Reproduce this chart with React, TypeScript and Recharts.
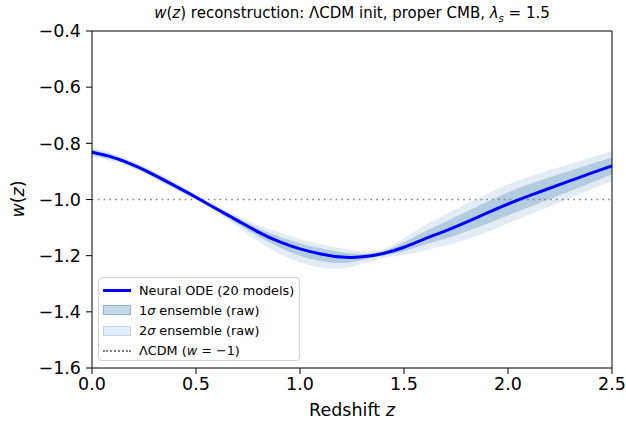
import React from "react";
import {
  ComposedChart,
  Area,
  Line,
  XAxis,
  YAxis,
  ReferenceLine,
} from "recharts";

// redshift grid
const Z = [
  0.0, 0.1, 0.2, 0.3, 0.4, 0.5, 0.6, 0.7, 0.8, 0.9, 1.0, 1.1, 1.2, 1.3, 1.4,
  1.5, 1.6, 1.7, 1.8, 1.9, 2.0, 2.1, 2.2, 2.3, 2.4, 2.5,
];

// ensemble mean w(z)
const MEAN = [
  -0.832, -0.85, -0.878, -0.913, -0.952, -0.992, -1.034, -1.075, -1.116,
  -1.15, -1.176, -1.194, -1.205, -1.204, -1.192, -1.17, -1.14, -1.112,
  -1.081, -1.048, -1.016, -0.987, -0.96, -0.933, -0.906, -0.88,
];

// 1 sigma band
const S1_HI = [
  -0.823, -0.842, -0.871, -0.905, -0.944, -0.986, -1.028, -1.066, -1.103,
  -1.132, -1.156, -1.174, -1.188, -1.194, -1.184, -1.152, -1.114, -1.079,
  -1.043, -1.008, -0.974, -0.946, -0.921, -0.898, -0.873, -0.85,
];
const S1_LO = [
  -0.842, -0.858, -0.885, -0.921, -0.96, -0.998, -1.041, -1.086, -1.131,
  -1.17, -1.201, -1.219, -1.226, -1.215, -1.2, -1.184, -1.16, -1.14, -1.114,
  -1.086, -1.057, -1.028, -0.999, -0.97, -0.94, -0.91,
];

// 2 sigma band
const S2_HI = [
  -0.816, -0.836, -0.866, -0.9, -0.939, -0.982, -1.023, -1.058, -1.092,
  -1.117, -1.141, -1.159, -1.174, -1.184, -1.176, -1.138, -1.093, -1.054,
  -1.016, -0.98, -0.947, -0.919, -0.896, -0.873, -0.85, -0.826,
];
const S2_LO = [
  -0.849, -0.864, -0.89, -0.926, -0.965, -1.002, -1.046, -1.097, -1.149,
  -1.193, -1.224, -1.242, -1.246, -1.229, -1.208, -1.198, -1.182, -1.164,
  -1.142, -1.116, -1.085, -1.055, -1.025, -0.995, -0.964, -0.936,
];

const X_TICKS = [0, 0.5, 1.0, 1.5, 2.0, 2.5];
const Y_TICKS = [-1.6, -1.4, -1.2, -1.0, -0.8, -0.6, -0.4];

const data = Z.map((z, i) => ({
  z,
  mean: MEAN[i],
  s1: [S1_LO[i], S1_HI[i]],
  s2: [S2_LO[i], S2_HI[i]],
}));

const FONT = "'DejaVu Sans', sans-serif";
const fmt = (v: number) => v.toFixed(1).replace("-", "\u2212");
const tickStyle = { fill: "#000", fontSize: 17.5, fontFamily: FONT };

const LEGEND = [
  { kind: "line", label: <>Neural ODE (20 models)</> },
  { kind: "s1", label: <>1<i>σ</i> ensemble (raw)</> },
  { kind: "s2", label: <>2<i>σ</i> ensemble (raw)</> },
  {
    kind: "dot",
    label: (
      <>
        ΛCDM (<i>w</i> = −1)
      </>
    ),
  },
];

function Handle({ kind }: { kind: string }) {
  const base: React.CSSProperties = { position: "absolute", left: 4, width: 28 };
  if (kind === "line")
    return <div style={{ ...base, top: 9, height: 3, background: "#0000ff" }} />;
  if (kind === "dot")
    return (
      <div
        style={{ ...base, top: 9, height: 0, borderTop: "2px dotted #808080" }}
      />
    );
  const strong = kind === "s1";
  return (
    <div
      style={{
        ...base,
        top: 5,
        height: 10,
        background: strong ? "rgba(70,130,180,0.3)" : "rgba(70,130,180,0.15)",
        border: strong
          ? "1px solid rgba(70,130,180,0.45)"
          : "1px solid rgba(70,130,180,0.2)",
        boxSizing: "border-box",
      }}
    />
  );
}

export default function App() {
  return (
    <div
      style={{
        position: "absolute",
        left: 0,
        top: 0,
        width: 626,
        height: 424,
        background: "#fff",
        fontFamily: FONT,
      }}
    >
      <ComposedChart
        width={626}
        height={424}
        data={data}
        margin={{ top: 31, right: 14, left: 0, bottom: 0 }}
      >
        <XAxis
          dataKey="z"
          type="number"
          domain={[0, 2.5]}
          ticks={X_TICKS}
          tickFormatter={fmt}
          tick={tickStyle}
          tickSize={6}
          tickMargin={4}
          height={56}
          stroke="#000"
          allowDataOverflow
        />
        <YAxis
          type="number"
          domain={[-1.6, -0.4]}
          ticks={Y_TICKS}
          tickFormatter={fmt}
          tick={tickStyle}
          tickSize={6}
          tickMargin={5}
          width={92}
          stroke="#000"
          allowDataOverflow
        />
        <ReferenceLine
          y={-1.0}
          stroke="#808080"
          strokeWidth={1.6}
          strokeDasharray="1.6 4.2"
        />
        <Area
          dataKey="s2"
          type="natural"
          fill="#4682b4"
          fillOpacity={0.15}
          stroke="none"
          isAnimationActive={false}
        />
        <Area
          dataKey="s1"
          type="natural"
          fill="#4682b4"
          fillOpacity={0.3}
          stroke="none"
          isAnimationActive={false}
        />
        <Line
          dataKey="mean"
          type="natural"
          stroke="#0000ff"
          strokeWidth={3}
          dot={false}
          isAnimationActive={false}
        />
        <ReferenceLine y={-0.4} stroke="#000" ifOverflow="visible" />
        <ReferenceLine x={2.5} stroke="#000" ifOverflow="visible" />
      </ComposedChart>

      <div
        style={{
          position: "absolute",
          left: 0,
          width: 704,
          top: 4,
          textAlign: "center",
          fontSize: 15,
          whiteSpace: "nowrap",
        }}
      >
        <i>w</i>(<i>z</i>) reconstruction: ΛCDM init, proper CMB, <i>λ</i>
        <sub style={{ fontSize: 10 }}>
          <i>s</i>
        </sub>{" "}
        = 1.5
      </div>

      <div
        style={{
          position: "absolute",
          left: 92,
          width: 520,
          top: 400,
          textAlign: "center",
          fontSize: 17.5,
        }}
      >
        Redshift <i>z</i>
      </div>

      <div
        style={{
          position: "absolute",
          left: 18,
          top: 199,
          transform: "translate(-50%, -50%) rotate(-90deg)",
          fontSize: 17.5,
          whiteSpace: "nowrap",
        }}
      >
        <i>w</i>(<i>z</i>)
      </div>

      <div
        style={{
          position: "absolute",
          left: 98,
          top: 277,
          width: 202,
          height: 84,
          border: "1px solid #d0d0d0",
          borderRadius: 4,
          background: "rgba(255,255,255,0.85)",
          fontSize: 12.8,
          boxSizing: "border-box",
        }}
      >
        {LEGEND.map((e, i) => (
          <div
            key={i}
            style={{
              position: "absolute",
              left: 0,
              top: 2 + i * 20.3,
              height: 20,
              display: "flex",
              alignItems: "center",
              whiteSpace: "nowrap",
            }}
          >
            <div style={{ width: 40, position: "relative", height: 20 }}>
              <Handle kind={e.kind} />
            </div>
            <span>{e.label}</span>
          </div>
        ))}
      </div>
    </div>
  );
}
